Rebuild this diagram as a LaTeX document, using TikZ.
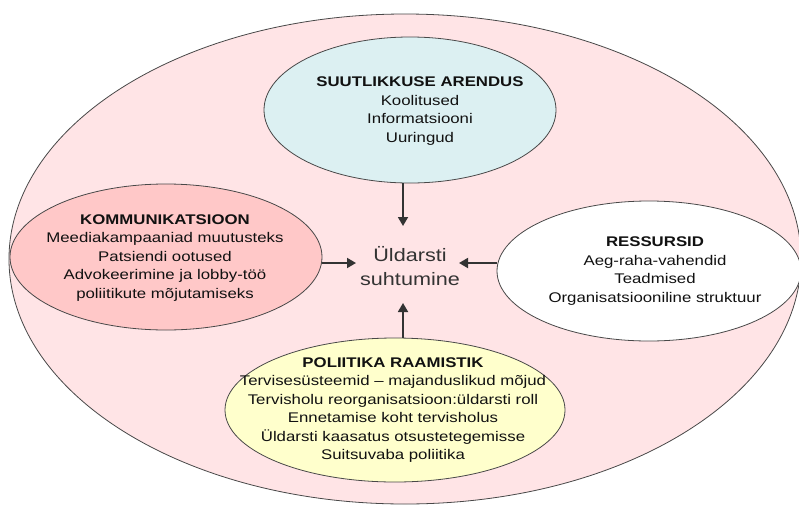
\documentclass[tikz,border=0pt]{standalone}
\usepackage{fontspec}
\setmainfont{Liberation Sans}[FakeStretch=1.2]
\usetikzlibrary{arrows.meta,shapes.geometric}
\definecolor{outerpink}{HTML}{FFE4E6}
\definecolor{bluefill}{HTML}{DCF0F2}
\definecolor{pinkfill}{HTML}{FFC8C8}
\definecolor{yellowfill}{HTML}{FFFFCC}
\definecolor{edgegray}{HTML}{484848}
\definecolor{arrowgray}{HTML}{333333}
\definecolor{txt}{HTML}{111111}
\begin{document}
\begin{tikzpicture}[x=1pt,y=-1pt,
  oval/.style={ellipse,draw=edgegray,line width=0.8pt,inner sep=0pt},
  bodytext/.style={align=center,text=txt,font=\fontsize{14}{18.5}\selectfont,inner sep=0pt},
  centertext/.style={align=center,text=arrowgray,font=\fontsize{18}{24}\selectfont,inner sep=0pt},
  arr/.style={draw=arrowgray,line width=1.8pt,-{Triangle[length=9pt,width=10pt]}}]
\useasboundingbox (0,0) rectangle (799,506);
\clip (0,0) rectangle (799,506);
\fill[white] (0,0) rectangle (799,506);
% outer ellipse
\node[oval,fill=outerpink,minimum width=792pt,minimum height=490pt] (outer) at (405,259) {};
% inner ellipses
\node[oval,fill=bluefill,minimum width=292pt,minimum height=146pt] (blue) at (410,110) {};
\node[oval,fill=pinkfill,minimum width=312pt,minimum height=146pt] (pink) at (166,257) {};
\node[oval,fill=white,minimum width=304pt,minimum height=140pt] (white) at (649,271) {};
\node[oval,fill=yellowfill,minimum width=340pt,minimum height=144pt] (yellow) at (395,410) {};
% texts
\node[bodytext] (tblue) at (420,111) {\textbf{SUUTLIKKUSE ARENDUS}\\Koolitused\\Informatsiooni\\Uuringud};
\node[bodytext] (tpink) at (165,258) {\textbf{KOMMUNIKATSIOON}\\Meediakampaaniad muutusteks\\Patsiendi ootused\\Advokeerimine ja lobby-töö\\poliitikute mõjutamiseks};
\node[bodytext] (twhite) at (655,271) {\textbf{RESSURSID}\\Aeg-raha-vahendid\\Teadmised\\Organisatsiooniline struktuur};
\node[bodytext] (tyellow) at (393,410) {\textbf{POLIITIKA RAAMISTIK}\\Tervisesüsteemid – majanduslikud mõjud\\Tervisholu reorganisatsioon:üldarsti roll\\Ennetamise koht tervisholus\\Üldarsti kaasatus otsustetegemisse\\Suitsuvaba poliitika};
\node[centertext] (center) at (410,266) {Üldarsti\\suhtumine};
% arrow end points
\coordinate (eTop) at (403,226);
\coordinate (eLeft) at (356,263);
\coordinate (eRight) at (459,263);
\coordinate (eBottom) at (403,303);
\draw[arr] (blue.south -| eTop) -- (eTop);
\draw[arr] (pink.east |- eLeft) -- (eLeft);
\draw[arr] (white.west |- eRight) -- (eRight);
\draw[arr] (yellow.north -| eBottom) -- (eBottom);
\end{tikzpicture}
\end{document}
